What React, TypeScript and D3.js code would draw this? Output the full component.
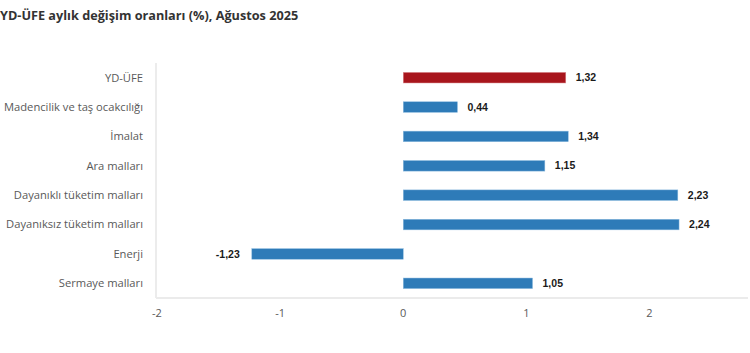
import React from "react";
import * as d3 from "d3";

const categories = [
  "YD-ÜFE",
  "Madencilik ve taş ocakcılığı",
  "İmalat",
  "Ara malları",
  "Dayanıklı tüketim malları",
  "Dayanıksız tüketim malları",
  "Enerji",
  "Sermaye malları",
];
const values = [1.32, 0.44, 1.34, 1.15, 2.23, 2.24, -1.23, 1.05];
const highlight = [true, false, false, false, false, false, false, false];
const tickValues = [-2, -1, 0, 1, 2];
const title = "YD-ÜFE aylık değişim oranları (%), Ağustos 2025";

const W = 750;
const H = 353;
const plot = { left: 156, right: 748, top: 63, bottom: 298 };

const fmt = (v: number) => v.toFixed(2).replace(".", ",");

export default function App() {
  const x = d3.scaleLinear().domain([-2, 2.8]).range([157, 748]);
  const y = d3
    .scaleBand<string>()
    .domain(categories)
    .range([plot.top, plot.bottom])
    .paddingInner(0.64)
    .paddingOuter(0.32);
  const font = "'Segoe UI', 'Open Sans', 'Noto Sans', sans-serif";
  return (
    <svg
      width={W}
      height={H}
      style={{ position: "absolute", left: 0, top: 0, background: "#fff" }}
      fontFamily={font}
    >
      <text x={0} y={20} fontSize={12.7} fontWeight="bold" fill="#333">
        {title}
      </text>
      <line x1={plot.left} x2={plot.left} y1={plot.top} y2={plot.bottom} stroke="#d9d9d9" strokeWidth={1} />
      <line x1={plot.left} x2={plot.right} y1={plot.bottom} y2={plot.bottom} stroke="#ebebeb" strokeWidth={2} />
      {categories.map((c, i) => {
        const v = values[i];
        const x0 = x(Math.min(0, v));
        const x1 = x(Math.max(0, v));
        const yc = (y(c) as number) + y.bandwidth() / 2;
        return (
          <g key={c}>
            <text x={143} y={yc} dy="0.35em" textAnchor="end" fontSize={11.2} fill="#595959">
              {c}
            </text>
            <rect
              x={x0}
              y={y(c)}
              width={x1 - x0}
              height={y.bandwidth()}
              fill={highlight[i] ? "#A8151C" : "#2E7BB8"}
              stroke={highlight[i] ? "#d98a8e" : "#8dbbe0"}
              strokeWidth={0.5}
            />
            <text
              x={v >= 0 ? x1 + 10 : x0 - 12}
              y={yc}
              dy="0.35em"
              textAnchor={v >= 0 ? "start" : "end"}
              fontSize={10.5}
              fontWeight="bold"
              fontFamily="Arial, 'Liberation Sans', sans-serif"
              fill="#1a1a1a"
            >
              {fmt(v)}
            </text>
          </g>
        );
      })}
      {tickValues.map((t) => (
        <text key={t} x={x(t)} y={313} dy="0.35em" textAnchor="middle" fontSize={11} fill="#595959">
          {String(t)}
        </text>
      ))}
    </svg>
  );
}
